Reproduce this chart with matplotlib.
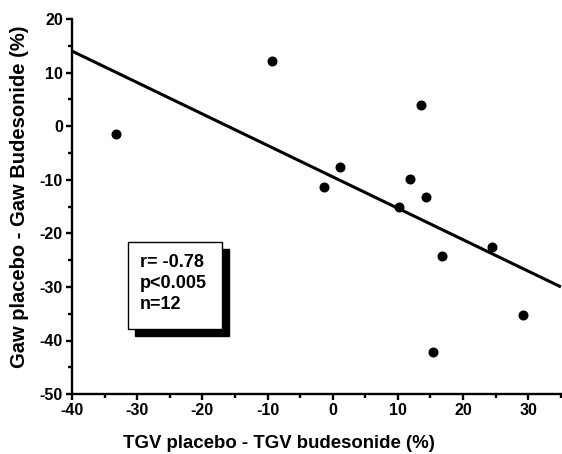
import numpy as np
import matplotlib.pyplot as plt
from matplotlib.patches import Rectangle
from matplotlib.ticker import MultipleLocator

# data
tgv = [-33.3, -9.3, -1.4, 1.1, 13.5, 11.9, 10.2, 14.3, 16.8, 24.4, 29.2, 15.4]
gaw = [-1.4, 12.1, -11.4, -7.6, 3.9, -9.8, -15.0, -13.3, -24.2, -22.5, -35.2, -42.2]

# regression line as drawn
slope = -0.587
intercept = -9.45
line_x = [-40, 35]

stats = ["r= -0.78", "p<0.005", "n=12"]

plt.rcParams['font.family'] = ['Liberation Sans', 'DejaVu Sans']
plt.rcParams['font.weight'] = 'bold'
plt.rcParams['axes.unicode_minus'] = False

fig = plt.figure(figsize=(5.62, 4.54), dpi=100)
ax = fig.add_axes([0.128, 0.132, 0.870, 0.826])

lx = np.array(line_x)
ax.plot(lx, slope * lx + intercept, '-k', lw=2.2, solid_capstyle='butt', clip_on=False)
ax.plot(tgv, gaw, 'ko', ms=6.2, clip_on=False)

ax.set_xlim(-40, 35)
ax.set_ylim(-50, 20)
ax.xaxis.set_major_locator(MultipleLocator(10))
ax.xaxis.set_minor_locator(MultipleLocator(5))
ax.yaxis.set_major_locator(MultipleLocator(10))
ax.yaxis.set_minor_locator(MultipleLocator(5))
ax.set_xticks(np.arange(-40, 31, 10))

for s in ['top', 'right']:
    ax.spines[s].set_visible(False)
for s in ['left', 'bottom']:
    ax.spines[s].set_linewidth(1.7)
ax.tick_params(which='major', direction='out', length=4.5, width=1.7, labelsize=11.5, pad=2)
ax.tick_params(which='minor', direction='out', length=3, width=1.7)
for lab in ax.get_xticklabels() + ax.get_yticklabels():
    lab.set_fontweight('bold')

# axis titles placed as in the original (not centred on the axes)
fig.text(0.4964, 0.024, "TGV placebo - TGV budesonide (%)", fontsize=13.4,
         fontweight='bold', ha='center', va='center')
fig.text(0.034, 0.566, "Gaw placebo - Gaw Budesonide (%)", fontsize=14.5,
         fontweight='bold', ha='center', va='center', rotation=90)

# stats box with shadow
bx, by, bw, bh = -31.4, -37.9, 14.4, 16.3
ax.add_patch(Rectangle((bx + 1.07, by - 1.3), bw, bh, facecolor='black', edgecolor='black', zorder=3))
ax.add_patch(Rectangle((bx, by), bw, bh, facecolor='white', edgecolor='black', lw=1.0, zorder=4))
ax.text(bx + 1.8, by + bh - 2.2, "\n".join(stats), fontsize=13, fontweight='bold',
        va='top', ha='left', linespacing=1.3, zorder=5)

fig.savefig("out.png", dpi=100)
